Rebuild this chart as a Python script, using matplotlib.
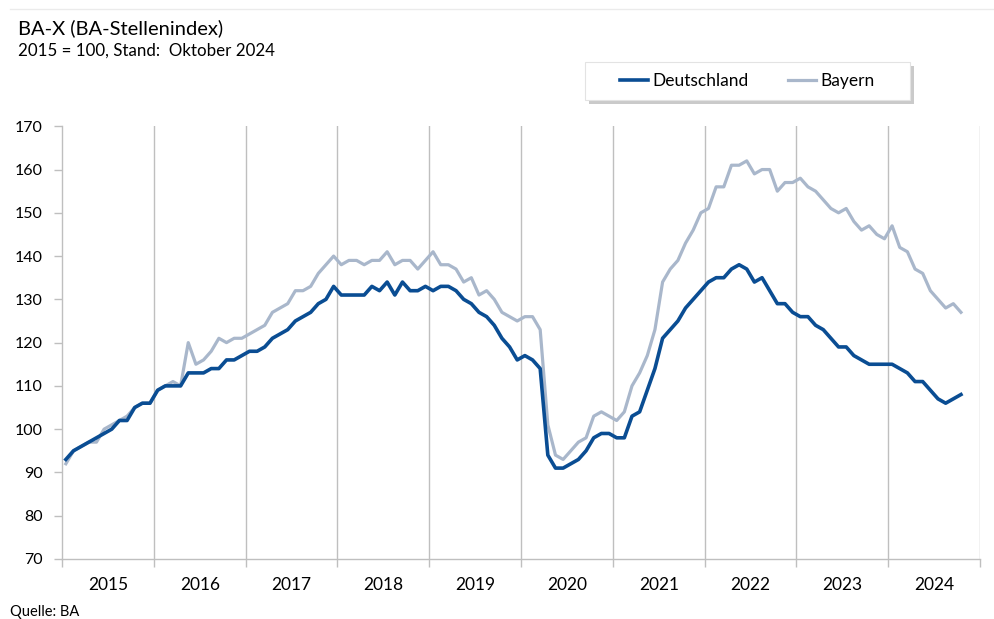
import numpy as np
import matplotlib
matplotlib.use("Agg")
import matplotlib.pyplot as plt
from matplotlib.lines import Line2D
from matplotlib.patches import Rectangle

plt.rcParams['font.family'] = ['Lato', 'DejaVu Sans']

# BA-X, monatlich Jan 2015 - Okt 2024 (2015 = 100)
deutschland = [
    93, 95, 96, 97, 98, 99, 100, 102, 102, 105, 106, 106,      # 2015
    109, 110, 110, 110, 113, 113, 113, 114, 114, 116, 116, 117,  # 2016
    118, 118, 119, 121, 122, 123, 125, 126, 127, 129, 130, 133,  # 2017
    131, 131, 131, 131, 133, 132, 134, 131, 134, 132, 132, 133,  # 2018
    132, 133, 133, 132, 130, 129, 127, 126, 124, 121, 119, 116,  # 2019
    117, 116, 114, 94, 91, 91, 92, 93, 95, 98, 99, 99,           # 2020
    98, 98, 103, 104, 109, 114, 121, 123, 125, 128, 130, 132,    # 2021
    134, 135, 135, 137, 138, 137, 134, 135, 132, 129, 129, 127,  # 2022
    126, 126, 124, 123, 121, 119, 119, 117, 116, 115, 115, 115,  # 2023
    115, 114, 113, 111, 111, 109, 107, 106, 107, 108,            # 2024
]
bayern = [
    92, 95, 96, 97, 97, 100, 101, 102, 103, 105, 106, 106,
    109, 110, 111, 110, 120, 115, 116, 118, 121, 120, 121, 121,
    122, 123, 124, 127, 128, 129, 132, 132, 133, 136, 138, 140,
    138, 139, 139, 138, 139, 139, 141, 138, 139, 139, 137, 139,
    141, 138, 138, 137, 134, 135, 131, 132, 130, 127, 126, 125,
    126, 126, 123, 101, 94, 93, 95, 97, 98, 103, 104, 103,
    102, 104, 110, 113, 117, 123, 134, 137, 139, 143, 146, 150,
    151, 156, 156, 161, 161, 162, 159, 160, 160, 155, 157, 157,
    158, 156, 155, 153, 151, 150, 151, 148, 146, 147, 145, 144,
    147, 142, 141, 137, 136, 132, 130, 128, 129, 127,
]
jahre = [str(y) for y in range(2015, 2025)]

x = np.arange(len(deutschland)) + 0.5
grey = '#bfbfbf'
blau = '#0a4d93'
hellblau = '#a9b7cb'

fig = plt.figure(figsize=(9.94, 6.19), dpi=100)
ax = fig.add_axes([0.0624, 0.097, 0.9236, 0.699])

ax.plot(x, bayern, color=hellblau, lw=2.3, zorder=3)
ax.plot(x, deutschland, color=blau, lw=2.6, zorder=4)

ax.set_xlim(0, 12 * len(jahre))
ax.set_ylim(70, 170)
ax.set_yticks(np.arange(70, 171, 10))

# Jahresgrenzen als vertikale Linien
for g in np.arange(12, 12 * len(jahre) + 1, 12):
    ax.axvline(g, color=grey, lw=1, zorder=1)
ax.set_xticks(np.arange(0, 12 * len(jahre) + 1, 12))
ax.set_xticklabels([])
ax.set_xticks(np.arange(6, 12 * len(jahre), 12), minor=True)
ax.set_xticklabels(jahre, minor=True)
ax.tick_params(axis='x', which='minor', length=0, pad=13, labelsize=12.5)
ax.tick_params(axis='x', which='major', length=6, color=grey, width=1)
ax.tick_params(axis='y', length=6, color=grey, width=1, labelsize=11.5, pad=8)

for s in ['top', 'right']:
    ax.spines[s].set_visible(False)
for s in ['left', 'bottom']:
    ax.spines[s].set_color(grey)
    ax.spines[s].set_linewidth(1)

# Legendenkasten mit Schatten
bx, by, bw, bh = 0.5885, 0.8384, 0.327, 0.0614
fig.add_artist(Rectangle((bx + 0.004, by - 0.0065), bw, bh, transform=fig.transFigure,
                         facecolor='#a0a0a0', edgecolor='none', alpha=0.55, zorder=5))
fig.add_artist(Rectangle((bx, by), bw, bh, transform=fig.transFigure,
                         facecolor='white', edgecolor='#e3e3e3', lw=0.8, zorder=6))

handles = [Line2D([], [], color=blau, lw=2.6),
           Line2D([], [], color=hellblau, lw=2.3)]
leg = fig.legend(handles, ['Deutschland', 'Bayern'], loc='center',
                 bbox_to_anchor=(bx + bw / 2, by + bh / 2), ncol=2, fontsize=12.5,
                 frameon=False, handlelength=1.6, handletextpad=0.25,
                 columnspacing=2.3, borderpad=0, borderaxespad=0)
leg.set_zorder(7)

fig.add_artist(Line2D([0.01, 1.0], [0.985, 0.985], color='#ebebeb', lw=1))
fig.text(0.018, 0.954, 'BA-X (BA-Stellenindex)', fontsize=14.5, va='center')
fig.text(0.018, 0.919, '2015 = 100, Stand:  Oktober 2024', fontsize=12.2, va='center')
fig.text(0.010, 0.005, 'Quelle: BA', fontsize=10.5, va='baseline')

fig.savefig('out.png', dpi=100)
